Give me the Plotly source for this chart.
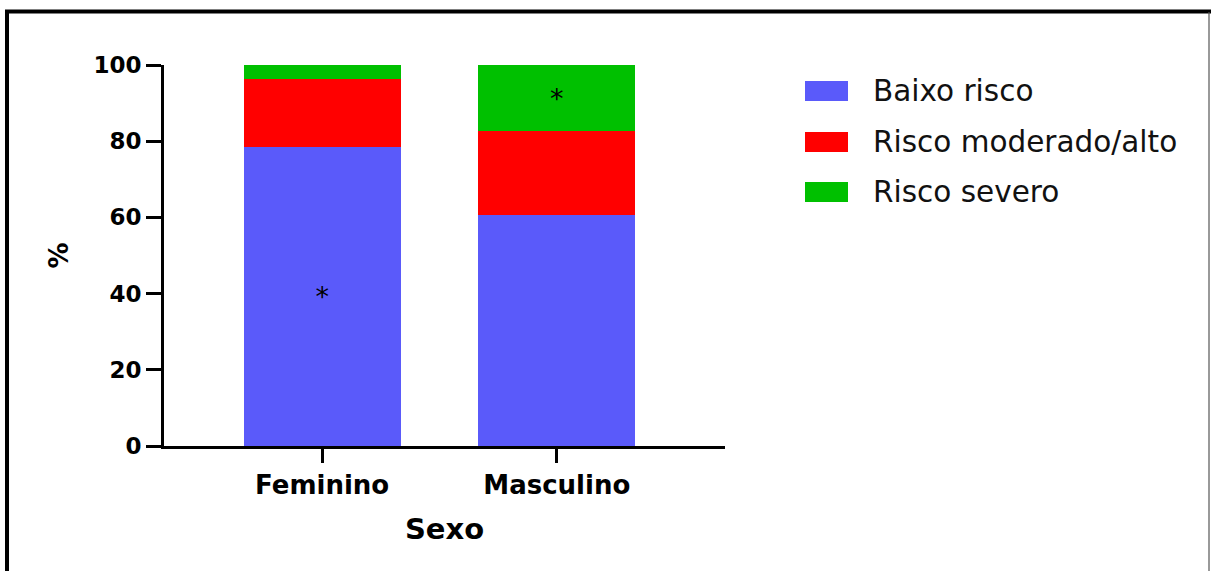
import plotly.graph_objects as go

# Percentual de participantes por categoria de risco, segundo o sexo
categorias = ["Feminino", "Masculino"]
baixo_risco = [78.6, 60.7]
risco_moderado_alto = [17.7, 21.9]
risco_severo = [3.7, 17.4]

series = ["Baixo risco", "Risco moderado/alto", "Risco severo"]
cores = ["#5A5AFA", "#FF0000", "#00C000"]
# marcação de diferença significativa em cada segmento
marcas_baixo = ["*", ""]
marcas_moderado = ["", ""]
marcas_severo = ["", "*"]

y_ticks = [0, 20, 40, 60, 80, 100]

W, H = 1211, 571
L, R, T, B = 164, 725, 65, 446  # bordas da área de plotagem em pixels
PW, PH = R - L, B - T


def px_x(px):
    return (px - L) / PW


def px_y(py):
    return (B - py) / PH


FONT = "DejaVu Sans"

fig = go.Figure()
for nome, valores, cor, marcas in zip(
    series,
    [baixo_risco, risco_moderado_alto, risco_severo],
    cores,
    [marcas_baixo, marcas_moderado, marcas_severo],
):
    fig.add_trace(
        go.Bar(
            name=nome,
            x=categorias,
            y=valores,
            marker=dict(color=cor, line=dict(width=0)),
            text=marcas,
            textposition="inside",
            insidetextanchor="middle",
            textangle=0,
            constraintext="none",
            textfont=dict(family=FONT, size=27, color="black"),
            showlegend=False,
        )
    )

shapes = []
annotations = []

# legenda desenhada com blocos de cor ao lado dos nomes das séries
leg_y = [91, 142, 192]
for nome, cor, cy in zip(series, cores, leg_y):
    shapes.append(
        dict(
            type="rect", xref="paper", yref="paper",
            x0=px_x(805), x1=px_x(848), y0=px_y(cy + 10), y1=px_y(cy - 10),
            fillcolor=cor, line=dict(width=0),
        )
    )
    annotations.append(
        dict(
            xref="paper", yref="paper", x=px_x(871), y=px_y(cy),
            xanchor="left", yanchor="middle", showarrow=False, text=nome,
            font=dict(family=FONT, size=29.5, color="#111111"),
        )
    )

# moldura ao redor do gráfico
shapes += [
    dict(type="line", xref="paper", yref="paper",
         x0=px_x(7), x1=px_x(7), y0=px_y(10), y1=px_y(600),
         line=dict(color="black", width=4)),
    dict(type="line", xref="paper", yref="paper",
         x0=px_x(5), x1=px_x(1230), y0=px_y(11.5), y1=px_y(11.5),
         line=dict(color="black", width=4)),
    dict(type="line", xref="paper", yref="paper",
         x0=px_x(1209), x1=px_x(1209), y0=px_y(12), y1=px_y(600),
         line=dict(color="#555555", width=1.2)),
]

fig.update_layout(
    width=W,
    height=H,
    margin=dict(l=L, r=W - R, t=T, b=H - B, pad=0),
    barmode="stack",
    bargap=0.332,
    plot_bgcolor="white",
    paper_bgcolor="white",
    shapes=shapes,
    annotations=annotations,
    showlegend=False,
    xaxis=dict(
        type="category",
        range=[-0.674, 1.717],
        showline=True, linecolor="black", linewidth=3,
        ticks="outside", ticklen=14, tickwidth=3, tickcolor="black",
        showgrid=False, zeroline=False,
        tickfont=dict(family=FONT, size=26, color="black", weight=700),
        title=dict(text="Sexo", standoff=20,
                   font=dict(family=FONT, size=29, color="black", weight=700)),
    ),
    yaxis=dict(
        range=[0, 100],
        tickvals=y_ticks,
        showline=True, linecolor="black", linewidth=3,
        ticks="outside", ticklen=15, tickwidth=3, tickcolor="black",
        showgrid=False, zeroline=False,
        tickfont=dict(family=FONT, size=23, color="black", weight=700),
        title=dict(text="%", standoff=18,
                   font=dict(family=FONT, size=26, color="black", weight=700)),
    ),
)

fig.write_html("out.html")
